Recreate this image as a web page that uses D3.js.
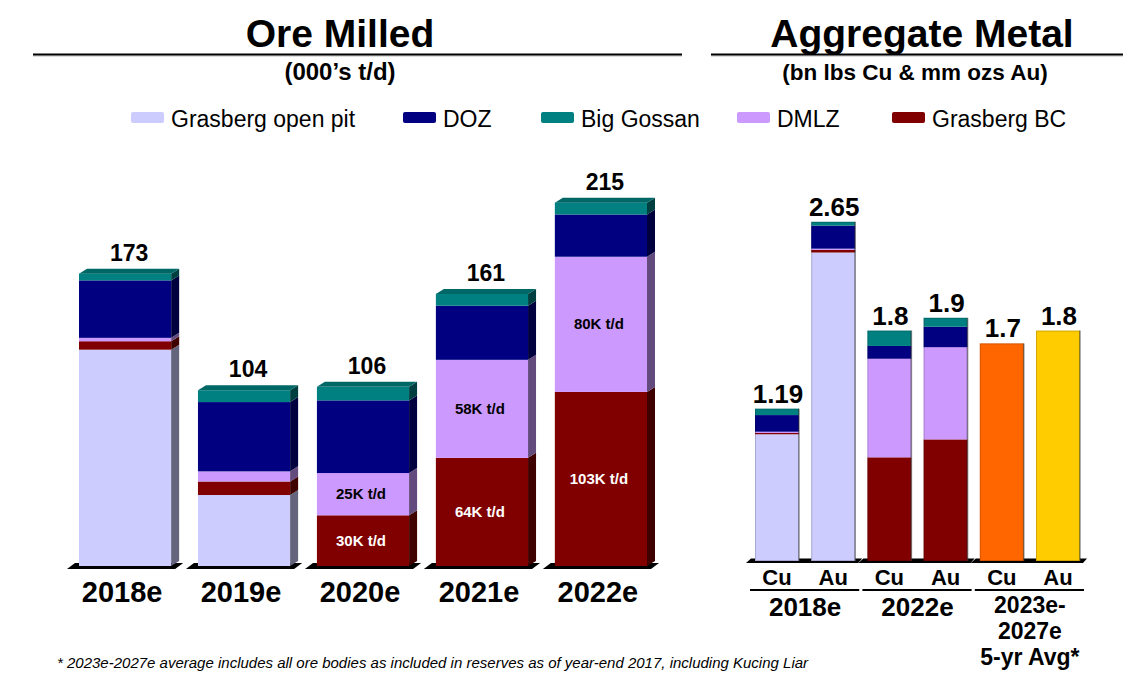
<!DOCTYPE html>
<html>
<head>
<meta charset="utf-8">
<script src="https://cdn.jsdelivr.net/npm/d3@7/dist/d3.min.js"></script>
<style>
  html, body { margin: 0; padding: 0; background: #fff; }
  svg { display: block; font-family: "Liberation Sans", Arial, sans-serif; }
</style>
</head>
<body>
<svg id="chart" width="1141" height="680"></svg>
<script>
// ---------- DATA ----------
const oreYears = ["2018e", "2019e", "2020e", "2021e", "2022e"];
const oreOpenPit   = [128, 42, 0, 0, 0];
const oreBC        = [5, 8, 30, 64, 103];
const oreDMLZ      = [2, 6, 25, 58, 80];
const oreDOZ       = [34, 41, 43, 32, 25];
const oreBigGossan = [4, 7, 8, 7, 7];
const oreTotals    = ["173", "104", "106", "161", "215"];
const oreInnerLabelFrom = 2; // segment labels shown from 2020e on

const metalBars   = ["Cu", "Au", "Cu", "Au", "Cu", "Au"];
const metalGroups = [["2018e"], ["2022e"], ["2023e-", "2027e", "5-yr Avg*"]];
const metalOpenPit   = [0.99, 2.41, 0, 0];
const metalBC        = [0.01, 0.02, 0.81, 0.95];
const metalDMLZ      = [0.01, 0.01, 0.77, 0.72];
const metalDOZ       = [0.13, 0.18, 0.10, 0.16];
const metalBigGossan = [0.05, 0.03, 0.12, 0.07];
const metalAvg       = [1.7, 1.8];
const metalTotals    = ["1.19", "2.65", "1.8", "1.9", "1.7", "1.8"];

const seriesNames  = ["Grasberg open pit", "DOZ", "Big Gossan", "DMLZ", "Grasberg BC"];
const seriesColors = {"Grasberg open pit": "#CCCCFF", "DOZ": "#000080", "Big Gossan": "#008080", "DMLZ": "#CC99FF", "Grasberg BC": "#800000"};
const avgColors = ["#FF6600", "#FFCC00"];
const stackOrder = ["Grasberg open pit", "Grasberg BC", "DMLZ", "DOZ", "Big Gossan"];

// ---------- SETUP ----------
const svg = d3.select("#chart");

// Titles
function title(text, cx, x0, x1) {
  svg.append("text").attr("x", cx).attr("y", 47).attr("text-anchor", "middle")
    .attr("font-size", 39).attr("font-weight", "bold").text(text);
  svg.append("line").attr("x1", x0).attr("x2", x1).attr("y1", 56).attr("y2", 56)
    .attr("stroke", "#bbb").attr("stroke-width", 1);
  svg.append("line").attr("x1", x0).attr("x2", x1).attr("y1", 54.5).attr("y2", 54.5)
    .attr("stroke", "#000").attr("stroke-width", 2.2);
}
title("Ore Milled", 340, 33, 682);
title("Aggregate Metal", 922, 711, 1123);
svg.append("text").attr("x", 340).attr("y", 80).attr("text-anchor", "middle")
  .attr("font-size", 24).attr("font-weight", "bold").text("(000’s t/d)");
svg.append("text").attr("x", 915).attr("y", 80).attr("text-anchor", "middle")
  .attr("font-size", 22.5).attr("font-weight", "bold").text("(bn lbs Cu & mm ozs Au)");

// Legend
const legendX = [131, 403, 541, 737, 892];
const lg = svg.append("g");
seriesNames.forEach((n, i) => {
  lg.append("rect").attr("x", legendX[i]).attr("y", 112).attr("width", 33).attr("height", 11)
    .attr("rx", 2).attr("fill", seriesColors[n]);
  lg.append("text").attr("x", legendX[i] + 40).attr("y", 126.5).attr("font-size", 23).text(n);
});

// ---------- LEFT: ORE MILLED (3D stacked) ----------
const xL = d3.scaleBand().domain(oreYears).range([79, 647]).paddingInner(0.2253).paddingOuter(0);
const yL = d3.scaleLinear().domain([0, 250]).range([566, 566 - 1.69 * 250]);
const DX = 8, DY = 5;
const oreSeries = {"Grasberg open pit": oreOpenPit, "Grasberg BC": oreBC, "DMLZ": oreDMLZ, "DOZ": oreDOZ, "Big Gossan": oreBigGossan};
const oreRows = oreYears.map((y, i) => {
  const r = {year: y};
  stackOrder.forEach(k => r[k] = oreSeries[k][i]);
  return r;
});
const oreStack = d3.stack().keys(stackOrder)(oreRows);

const gL = svg.append("g");
const shade = (c, k) => d3.rgb(c).darker(k).formatHex();
// floor slabs
oreYears.forEach(y => {
  const x0 = xL(y), x1 = x0 + xL.bandwidth(), b = yL(0);
  gL.append("path").attr("fill", "#000")
    .attr("d", `M${x0 - 12},${b + 3} L${x0 - 4},${b - 3} L${x1 + 12},${b - 3} L${x1 + 4},${b + 3} Z`);
});
oreStack.forEach(layer => {
  const color = seriesColors[layer.key];
  layer.forEach(d => {
    if (d[1] - d[0] <= 0) return;
    const x0 = xL(d.data.year), x1 = x0 + xL.bandwidth();
    const yt = yL(d[1]), yb = yL(d[0]);
    gL.append("rect").attr("x", x0).attr("y", yt).attr("width", x1 - x0).attr("height", yb - yt).attr("fill", color);
    gL.append("path").attr("fill", shade(color, 2.0))
      .attr("d", `M${x1},${yt} L${x1 + DX},${yt - DY} L${x1 + DX},${yb - DY} L${x1},${yb} Z`);
  });
});
// top faces
oreYears.forEach((y, i) => {
  const top = oreStack[oreStack.length - 1][i][1];
  const x0 = xL(y), x1 = x0 + xL.bandwidth(), yt = yL(top);
  gL.append("path").attr("fill", shade(seriesColors["Big Gossan"], 0.6))
    .attr("d", `M${x0},${yt} L${x0 + DX},${yt - DY} L${x1 + DX},${yt - DY} L${x1},${yt} Z`);
  gL.append("text").attr("x", x0 + xL.bandwidth() / 2 + DX / 2).attr("y", yt - DY - 8)
    .attr("text-anchor", "middle").attr("font-size", 23).attr("font-weight", "bold").text(oreTotals[i]);
  gL.append("text").attr("x", x0 + xL.bandwidth() / 2 - 3).attr("y", 602)
    .attr("text-anchor", "middle").attr("font-size", 29).attr("font-weight", "bold").text(y);
});
// inner segment labels
["DMLZ", "Grasberg BC"].forEach(k => {
  const layer = oreStack.find(l => l.key === k);
  layer.forEach((d, i) => {
    if (i < oreInnerLabelFrom) return;
    const cx = xL(d.data.year) + xL.bandwidth() / 2 - 2;
    const cy = (yL(d[0]) + yL(d[1])) / 2;
    gL.append("text").attr("x", cx).attr("y", cy + 5).attr("text-anchor", "middle")
      .attr("font-size", 15).attr("font-weight", "bold")
      .attr("fill", k === "DMLZ" ? "#000" : "#fff")
      .text(`${d[1] - d[0]}K t/d`);
  });
});

// ---------- RIGHT: AGGREGATE METAL ----------
const xR = d3.scaleBand().domain(d3.range(metalBars.length)).range([755, 1080]).paddingInner(0.217).paddingOuter(0);
const yR = d3.scaleLinear().domain([0, 3]).range([561, 561 - 128 * 3]);
const metalSeries = {"Grasberg open pit": metalOpenPit, "Grasberg BC": metalBC, "DMLZ": metalDMLZ, "DOZ": metalDOZ, "Big Gossan": metalBigGossan};
const metalRows = metalOpenPit.map((_, i) => {
  const r = {idx: i};
  stackOrder.forEach(k => r[k] = metalSeries[k][i]);
  return r;
});
const metalStack = d3.stack().keys(stackOrder)(metalRows);
const gR = svg.append("g");
// floor slabs per group
metalGroups.forEach((g, gi) => {
  const x0 = xR(gi * 2), x1 = xR(gi * 2 + 1) + xR.bandwidth(), b = yR(0);
  gR.append("path").attr("fill", "#000")
    .attr("d", `M${x0 - 9},${b + 2} L${x0 - 4},${b - 2.5} L${x1 + 7},${b - 2.5} L${x1 + 3},${b + 2} Z`);
});
metalStack.forEach(layer => {
  const color = seriesColors[layer.key];
  layer.forEach(d => {
    if (d[1] - d[0] <= 0) return;
    const x0 = xR(d.data.idx);
    gR.append("rect").attr("x", x0).attr("y", yR(d[1])).attr("width", xR.bandwidth())
      .attr("height", yR(d[0]) - yR(d[1])).attr("fill", color);
  });
});
metalAvg.forEach((v, i) => {
  const idx = 4 + i;
  gR.append("rect").attr("x", xR(idx)).attr("y", yR(v)).attr("width", xR.bandwidth())
    .attr("height", yR(0) - yR(v)).attr("fill", avgColors[i]);
});
// bar tops and edges
const metalTops = metalStack[metalStack.length - 1].map(d => d[1]).concat(metalAvg);
metalTops.forEach((t, i) => {
  const x0 = xR(i), w = xR.bandwidth();
  gR.append("rect").attr("x", x0 + 0.5).attr("y", yR(t) + 0.5).attr("width", w - 1).attr("height", yR(0) - yR(t) - 1)
    .attr("fill", "none").attr("stroke", "rgba(0,0,0,0.18)").attr("stroke-width", 1);
  gR.append("line").attr("x1", x0 + w).attr("x2", x0 + w).attr("y1", yR(t)).attr("y2", yR(0))
    .attr("stroke", "rgba(60,60,60,0.55)").attr("stroke-width", 1.5);
  gR.append("text").attr("x", x0 + w / 2 + 1).attr("y", yR(t) - 6).attr("text-anchor", "middle")
    .attr("font-size", 26).attr("font-weight", "bold").text(metalTotals[i]);
  gR.append("text").attr("x", x0 + w / 2).attr("y", 585).attr("text-anchor", "middle")
    .attr("font-size", 22).attr("font-weight", "bold").text(metalBars[i]);
});
metalGroups.forEach((lines, gi) => {
  const x0 = xR(gi * 2), x1 = xR(gi * 2 + 1) + xR.bandwidth(), cx = (x0 + x1) / 2;
  gR.append("line").attr("x1", x0 - 5).attr("x2", x1 + 4).attr("y1", 590).attr("y2", 590)
    .attr("stroke", "#000").attr("stroke-width", 2);
  const multi = lines.length > 1;
  const t = gR.append("text").attr("x", cx).attr("y", multi ? 613 : 616).attr("text-anchor", "middle")
    .attr("font-size", multi ? 23 : 26).attr("font-weight", "bold");
  lines.forEach((s, li) => {
    t.append("tspan").attr("x", cx).attr("dy", li === 0 ? 0 : 25.8).text(s);
  });
});

// Footnote
svg.append("text").attr("x", 57).attr("y", 668).attr("font-size", 15).attr("font-style", "italic")
  .text("* 2023e-2027e average includes all ore bodies as included in reserves as of year-end 2017, including Kucing Liar");
</script>
</body>
</html>
